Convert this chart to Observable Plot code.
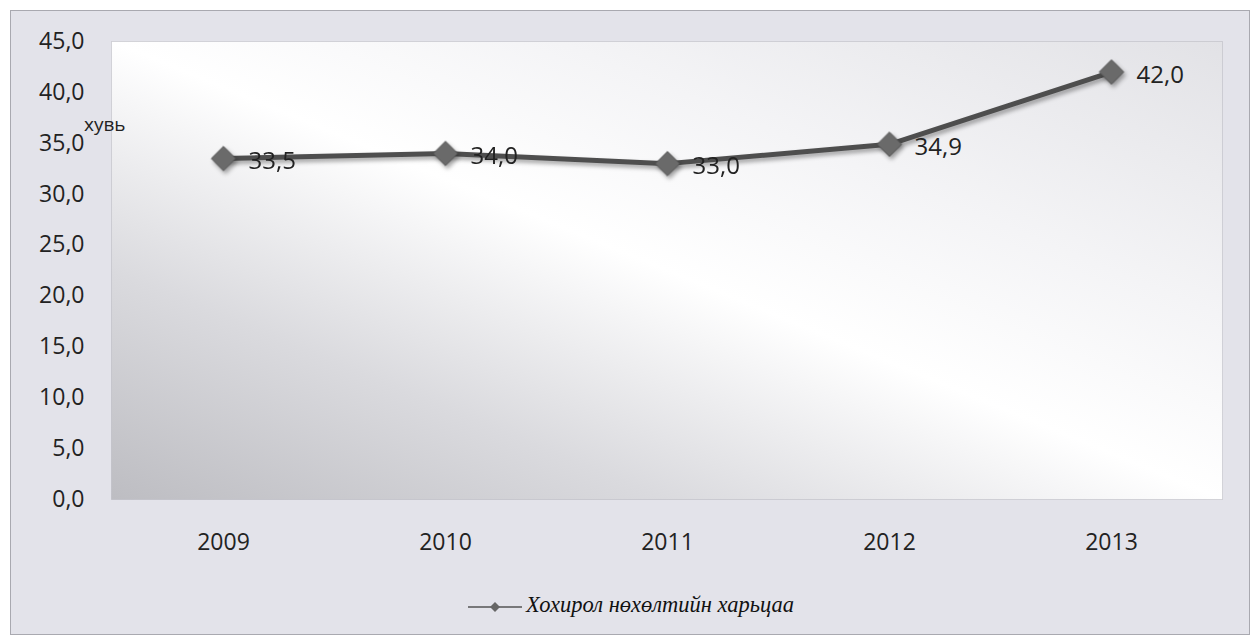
<!DOCTYPE html>
<html>
<head>
<meta charset="utf-8">
<script src="https://cdn.jsdelivr.net/npm/d3@7"></script>
<script src="https://cdn.jsdelivr.net/npm/@observablehq/plot@0.6"></script>
<style>
  html, body { margin: 0; padding: 0; background: #fff; }
  #frame {
    position: absolute; left: 10px; top: 10px; width: 1238px; height: 623px;
    background: #e3e3ea; border: 1px solid #a9a9b0;
  }
  #chart { position: absolute; left: 0; top: 0; }
  #unit {
    position: absolute; left: 73px; top: 100px;
    font-family: "Open Sans", "Noto Sans", sans-serif; font-size: 19px; color: #222;
  }
  #legend {
    position: absolute; left: 0; top: 581px; width: 1238px; text-align: center;
    font-family: "Liberation Serif", "DejaVu Serif", serif; font-style: italic;
    font-size: 22.5px; color: #111;
  }
  #legend svg { vertical-align: middle; margin-right: 2px; }
  #chart g[aria-label="line"], #chart g[aria-label="dot"] {
    filter: drop-shadow(2px 3px 2px rgba(0,0,0,0.35));
  }
</style>
</head>
<body>
<div id="frame">
  <div id="chart"></div>
  <div id="unit">хувь</div>
  <div id="legend"></div>
</div>
<script>
const years = ["2009", "2010", "2011", "2012", "2013"];
const values = [33.5, 34.0, 33.0, 34.9, 42.0];
const yTicks = [0, 5, 10, 15, 20, 25, 30, 35, 40, 45];
const seriesName = "Хохирол нөхөлтийн харьцаа";

const data = years.map((y, i) => ({year: y, value: values[i]}));
const fmt = v => v.toFixed(1).replace(".", ",");

const plot = Plot.plot({
  width: 1238,
  height: 560,
  marginLeft: 100,
  marginRight: 27,
  marginTop: 30,
  marginBottom: 72,
  style: {background: "transparent", fontFamily: "'Open Sans', 'Noto Sans', sans-serif", fontSize: "23px", color: "#222", overflow: "visible"},
  x: {type: "band", domain: years, padding: 0, label: null, tickSize: 0, tickPadding: 34},
  y: {domain: [0, 45], ticks: yTicks, tickFormat: fmt, label: null, tickSize: 0, tickPadding: 27},
  marks: [
    Plot.frame({fill: "url(#bg)", stroke: "#b5b5bc", strokeDasharray: "1,1"}),
    Plot.line(data, {x: "year", y: "value", stroke: "#4e4e4e", strokeWidth: 5}),
    Plot.dot(data, {x: "year", y: "value", symbol: "diamond2", r: 11, fill: "#6a6a6a", stroke: "#555", strokeWidth: 1}),
    Plot.text(data, {x: "year", y: "value", text: d => fmt(d.value), textAnchor: "start", dx: 25, dy: 3, fontSize: 24, fill: "#222"})
  ]
});

const defs = document.createElementNS("http://www.w3.org/2000/svg", "defs");
defs.innerHTML = `
  <linearGradient id="bg" x1="0" y1="1" x2="1" y2="0">
    <stop offset="0" stop-color="#bdbdc2"/>
    <stop offset="0.25" stop-color="#dadade"/>
    <stop offset="0.5" stop-color="#ffffff"/>
    <stop offset="0.7" stop-color="#f4f4f6"/>
    <stop offset="1" stop-color="#e2e2e6"/>
  </linearGradient>`;
plot.insertBefore(defs, plot.firstChild);
document.getElementById("chart").appendChild(plot);

document.getElementById("legend").innerHTML =
  `<svg width="58" height="14"><line x1="2" y1="7" x2="56" y2="7" stroke="#555" stroke-width="1.5"/>` +
  `<path d="M29,2 L34,7 L29,12 L24,7 Z" fill="#666"/></svg>` + seriesName;
</script>
</body>
</html>
